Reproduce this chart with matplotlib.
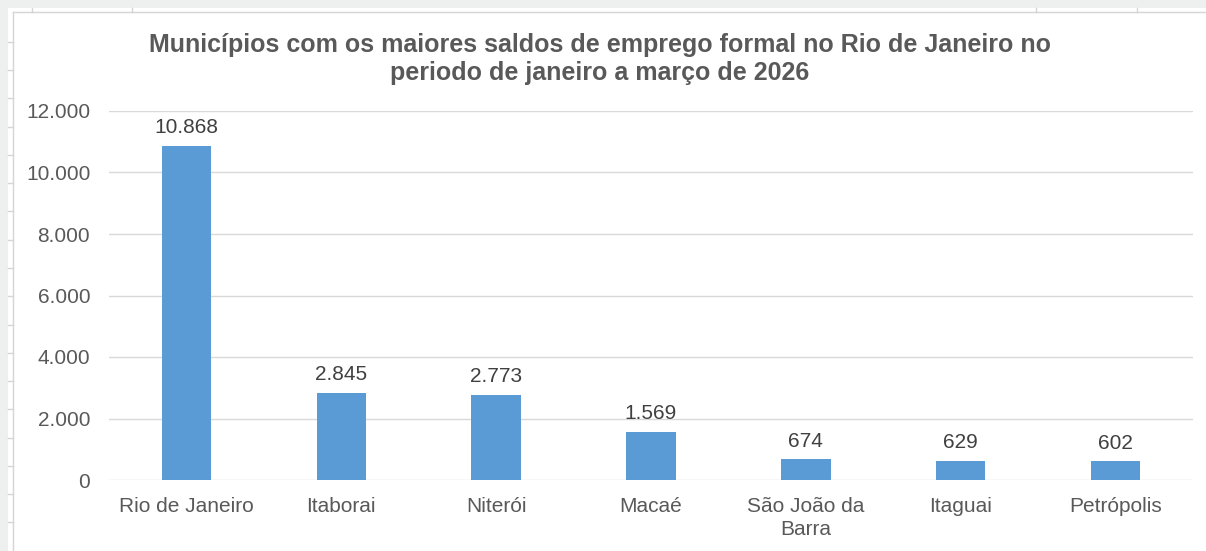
import matplotlib.pyplot as plt
from matplotlib.patches import Rectangle
from matplotlib.lines import Line2D
from matplotlib.ticker import FuncFormatter

# Dados: saldo de emprego formal, jan-mar 2026
municipios = ["Rio de Janeiro", "Itaborai", "Niterói", "Macaé",
              "São João da\nBarra", "Itaguai", "Petrópolis"]
saldos = [10868, 2845, 2773, 1569, 674, 629, 602]
yticks = [0, 2000, 4000, 6000, 8000, 10000, 12000]

titulo = ("Municípios com os maiores saldos de emprego formal no Rio de Janeiro no\n"
          "periodo de janeiro a março de 2026")

plt.rcParams['font.family'] = ['Liberation Sans', 'DejaVu Sans']

W, H = 1206, 551
fig = plt.figure(figsize=(W / 100, H / 100), dpi=100)
fig.patch.set_facecolor('white')


def fmt(v, pos=None):
    return f"{int(v):,}".replace(",", ".")


# moldura da planilha (faixas cinzas ao redor do grafico)
gray = '#eef0f0'
fig.patches.append(Rectangle((0, 1 - 8 / H), 1, 8 / H, transform=fig.transFigure,
                             facecolor=gray, edgecolor='none', zorder=0))
fig.patches.append(Rectangle((0, 0), 8 / W, 1, transform=fig.transFigure,
                             facecolor=gray, edgecolor='none', zorder=0))
fig.lines.append(Line2D([13 / W, 13 / W], [0, 1 - 12 / H], transform=fig.transFigure,
                        color='#d4d6d6', lw=1))
fig.lines.append(Line2D([13 / W, 1], [1 - 12 / H, 1 - 12 / H], transform=fig.transFigure,
                        color='#d4d6d6', lw=1))
for yy in [42, 70, 98, 127, 155, 183, 211, 240, 268, 296, 325, 353, 381, 409, 438, 466, 494, 522]:
    fig.lines.append(Line2D([8 / W, 13 / W], [1 - yy / H] * 2, transform=fig.transFigure,
                            color='#d4d6d6', lw=1))
for xx in [32, 132, 1036, 1137]:
    fig.lines.append(Line2D([xx / W] * 2, [1 - 8 / H, 1 - 12 / H], transform=fig.transFigure,
                            color='#d4d6d6', lw=1))

ax = fig.add_axes([109 / W, 71 / H, (1193 - 109) / W, (480 - 111) / H])
x = range(len(municipios))
bars = ax.bar(x, saldos, width=0.32, color='#5b9bd5', zorder=2)

for b, v in zip(bars, saldos):
    ax.annotate(fmt(v), (b.get_x() + b.get_width() / 2, v), xytext=(0, 6),
                textcoords='offset points', ha='center', va='bottom',
                fontsize=15, color='#404040')

ax.set_xlim(-0.5, len(municipios) - 0.5)
ax.set_ylim(0, 12000)
ax.set_yticks(yticks)
ax.yaxis.set_major_formatter(FuncFormatter(fmt))
ax.set_xticks(list(x))
ax.set_xticklabels(municipios, linespacing=1.3)
ax.tick_params(axis='both', length=0, labelsize=15, labelcolor='#595959')
ax.tick_params(axis='y', pad=13.5)
ax.tick_params(axis='x', pad=12)
ax.grid(axis='y', color='#d9d9d9', lw=1, zorder=0)
for s in ax.spines.values():
    s.set_visible(False)

fig.text(600 / W, 1 - 59 / H, titulo, ha='center', va='center', fontsize=18,
         fontweight='bold', color='#595959', linespacing=1.25)

fig.savefig('out.png', dpi=100)
